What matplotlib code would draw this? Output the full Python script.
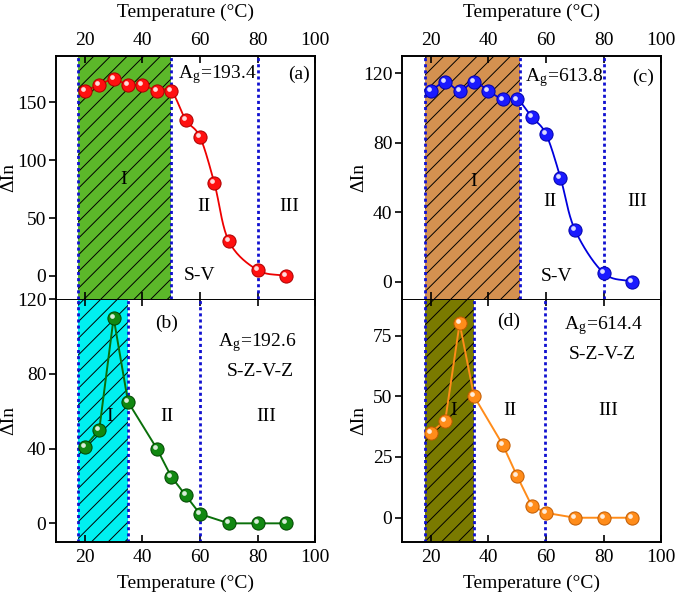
import numpy as np
import matplotlib
matplotlib.use('Agg')
import matplotlib.pyplot as plt
import matplotlib.transforms as mtransforms

plt.rcParams['font.family'] = ['Liberation Serif', 'DejaVu Serif']
plt.rcParams['font.size'] = 14
plt.rcParams['mathtext.fontset'] = 'stix'
plt.rcParams['hatch.linewidth'] = 0.7

# data
temp_a = [20, 25, 30, 35, 40, 45, 50, 55, 60, 65, 70, 80, 90]
din_a = [160, 165, 170, 165, 165, 160, 160, 135, 120, 80, 30, 5, 0]
temp_b = [20, 25, 30, 35, 45, 50, 55, 60, 70, 80, 90]
din_b = [41, 50, 110, 65, 40, 25, 15, 5, 0, 0, 0]
temp_c = [20, 25, 30, 35, 40, 45, 50, 55, 60, 65, 70, 80, 90]
din_c = [110, 115, 110, 115, 110, 105, 105, 95, 85, 60, 30, 5, 0]
temp_d = [20, 25, 30, 35, 45, 50, 55, 60, 70, 80, 90]
din_d = [35, 40, 80, 50, 30, 17, 5, 2, 0, 0, 0]

regions_a = (17.5, 50, 80)
regions_b = (17.5, 35, 60)
regions_c = (18, 51, 80)
regions_d = (18, 35, 59.5)

ylims = {'a': (-20, 190), 'b': (-10, 120), 'c': (-10, 130), 'd': (-10, 90)}
yticks = {'a': [0, 50, 100, 150], 'b': [0, 40, 80, 120],
          'c': [0, 40, 80, 120], 'd': [0, 25, 50, 75]}


def catmull(x, y, n=20):
    # smooth line through the points (Catmull-Rom)
    x = np.asarray(x, float); y = np.asarray(y, float)
    px = np.concatenate([[2*x[0]-x[1]], x, [2*x[-1]-x[-2]]])
    py = np.concatenate([[2*y[0]-y[1]], y, [2*y[-1]-y[-2]]])
    xs, ys = [], []
    t = np.linspace(0, 1, n)
    for i in range(1, len(px)-2):
        for p, out in ((px, xs), (py, ys)):
            p0, p1, p2, p3 = p[i-1], p[i], p[i+1], p[i+2]
            out.extend(0.5*((2*p1) + (-p0+p2)*t + (2*p0-5*p1+4*p2-p3)*t**2
                            + (-p0+3*p1-3*p2+p3)*t**3))
    return xs, ys


def spheres(ax, fig, x, y, color, edge):
    ax.plot(x, y, 'o', ms=9.5, mfc=color, mec=edge, mew=0.7, zorder=5)
    off = mtransforms.offset_copy(ax.transData, fig=fig, x=-1.4, y=1.4, units='points')
    ax.plot(x, y, 'o', ms=3.4, mfc='white', mec='none', alpha=0.85,
            transform=off, zorder=6)


fig = plt.figure(figsize=(6.75, 5.94), dpi=100)
W, H = 0.384, 0.409
axes = {
    'a': fig.add_axes([0.083, 0.4966, W, H]),
    'b': fig.add_axes([0.083, 0.0875, W, H]),
    'c': fig.add_axes([0.5956, 0.4966, W, H]),
    'd': fig.add_axes([0.5956, 0.0875, W, H]),
}
# top panels drawn above bottom ones
axes['a'].set_zorder(2); axes['c'].set_zorder(2)

shade = {'a': '#5cb82a', 'b': '#00f0f0', 'c': '#d49150', 'd': '#7a7a00'}
regs = {'a': regions_a, 'b': regions_b, 'c': regions_c, 'd': regions_d}

for k, ax in axes.items():
    r = regs[k]
    ax.axvspan(r[0], r[1], facecolor=shade[k], edgecolor='k', hatch='//',
               linewidth=0, zorder=1)
    for xv in r:
        ax.axvline(xv, color='#1010d0', lw=2, ls=(0, (1.1, 1.1)), zorder=2)
    ax.set_xlim(10, 100)
    ax.set_ylim(*ylims[k])
    ax.set_yticks(yticks[k])
    ax.set_xticks([20, 40, 60, 80, 100])
    ax.set_ylabel('ΔIn')
    if k in ('a', 'b'):
        ax.yaxis.set_label_coords(-0.148, 0.5)
    else:
        ax.yaxis.set_label_coords(-0.135, 0.5)
    ax.tick_params(axis='x', direction='in', top=True, bottom=True, length=5, width=1.2, pad=5)
    ax.tick_params(axis='y', direction='out', length=5, width=1.2, pad=2)
    for s in ax.spines.values():
        s.set_linewidth(1.4)
    if k in ('a', 'c'):
        ax.tick_params(axis='x', labeltop=True, labelbottom=False)
        ax.xaxis.set_label_position('top')
        ax.spines['bottom'].set_visible(False)
        ax.set_xlabel('Temperature (°C)', labelpad=11)
    else:
        ax.set_xlabel('Temperature (°C)', labelpad=6)

# (a)
ax = axes['a']
xs, ys = catmull(temp_a, din_a)
ax.plot(xs, ys, color='#ee0000', lw=1.3, zorder=4)
spheres(ax, fig, temp_a, din_a, '#ff1010', '#aa0000')
ax.text(52.5, 174, r'A$_\mathregular{g}$=193.4', va='center', ha='left')
ax.text(98, 174, '(a)', va='center', ha='right')
ax.text(33.6, 83, 'I', ha='center', va='center')
ax.text(61.4, 60, 'II', ha='center', va='center')
ax.text(91, 60, 'III', ha='center', va='center')
ax.text(60, 0, 'S-V', ha='center', va='center')

# (b)
ax = axes['b']
ax.plot(temp_b, din_b, color='#0a700a', lw=1.4, zorder=4)
spheres(ax, fig, temp_b, din_b, '#118811', '#004400')
ax.text(48.5, 107, '(b)', ha='center', va='center')
ax.text(80, 97, r'A$_\mathregular{g}$=192.6', ha='center', va='center')
ax.text(81, 81, 'S-Z-V-Z', ha='center', va='center')
ax.text(28.7, 57, 'I', ha='center', va='center')
ax.text(48.4, 57, 'II', ha='center', va='center')
ax.text(83, 57, 'III', ha='center', va='center')

# (c)
ax = axes['c']
xs, ys = catmull(temp_c, din_c)
ax.plot(xs, ys, color='#0000dd', lw=1.3, zorder=4)
spheres(ax, fig, temp_c, din_c, '#1a1aff', '#0000aa')
ax.text(52.7, 117.5, r'A$_\mathregular{g}$=613.8', va='center', ha='left')
ax.text(97.6, 117.5, '(c)', va='center', ha='right')
ax.text(34.8, 58, 'I', ha='center', va='center')
ax.text(61.4, 46, 'II', ha='center', va='center')
ax.text(91.5, 46, 'III', ha='center', va='center')
ax.text(63.8, 3, 'S-V', ha='center', va='center')

# (d)
ax = axes['d']
ax.plot(temp_d, din_d, color='#ff8c1a', lw=1.4, zorder=4)
spheres(ax, fig, temp_d, din_d, '#ff8c1a', '#c05a00')
ax.text(46.9, 81, '(d)', ha='center', va='center')
ax.text(80, 79, r'A$_\mathregular{g}$=614.4', ha='center', va='center')
ax.text(79.5, 67, 'S-Z-V-Z', ha='center', va='center')
ax.text(27.8, 44, 'I', ha='center', va='center')
ax.text(47.5, 44, 'II', ha='center', va='center')
ax.text(81.7, 44, 'III', ha='center', va='center')

fig.savefig('out.png', dpi=100)
